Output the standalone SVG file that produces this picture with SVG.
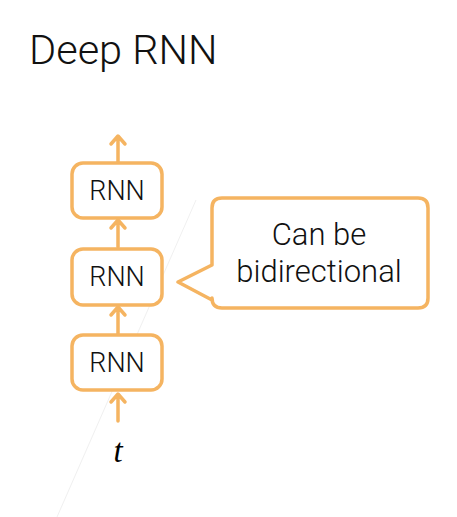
<svg xmlns="http://www.w3.org/2000/svg" width="457" height="517" viewBox="0 0 457 517">
<defs>
<style>
.box{fill:#fff;stroke:#F5B461;stroke-width:3.5}
.ln{fill:none;stroke:#F5B461;stroke-width:3.5;stroke-linecap:round;stroke-linejoin:round}
.lbl{font-family:Roboto,"Liberation Sans",sans-serif;font-weight:300;fill:#111}
</style>
</defs>
<rect width="457" height="517" fill="#fff"/>
<line x1="57" y1="517" x2="196" y2="200" stroke="#f0f0f0" stroke-width="1"/>
<text x="29" y="64" class="lbl" font-size="41.5">Deep RNN</text>
<g id="connectors">
<path class="ln" d="M118,162 V137 M111,144 L118,136 L125,144"/>
<path class="ln" d="M118,247 V221 M111,228 L118,220 L125,228"/>
<path class="ln" d="M118,334 V308 M111,315 L118,307 L125,315"/>
<path class="ln" d="M118,421 V395 M111,402 L118,394 L125,402"/>
</g>
<g id="rnn3"><rect class="box" x="72" y="163" width="90" height="55" rx="11"/><text x="117" y="200" class="lbl" font-size="27" text-anchor="middle">RNN</text></g>
<g id="rnn2"><rect class="box" x="72" y="249" width="90" height="56" rx="11"/><text x="117" y="286" class="lbl" font-size="27" text-anchor="middle">RNN</text></g>
<g id="rnn1"><rect class="box" x="72" y="335" width="90" height="55" rx="11"/><text x="117" y="372" class="lbl" font-size="27" text-anchor="middle">RNN</text></g>
<g id="t"><text x="118" y="462" font-family="'Liberation Serif',serif" font-style="italic" font-size="33" text-anchor="middle" fill="#000">t</text></g>
<g id="callout">
<path class="box" stroke-linejoin="round" d="M222,198 H418 Q428,198 428,208 V298 Q428,308 418,308 H222 Q212,308 212,298 V300 L178,282 L212,265 V208 Q212,198 222,198 Z"/>
<text x="319" y="245" class="lbl" font-size="31" text-anchor="middle">Can be</text>
<text x="319" y="282" class="lbl" font-size="31" text-anchor="middle">bidirectional</text>
</g>
</svg>
